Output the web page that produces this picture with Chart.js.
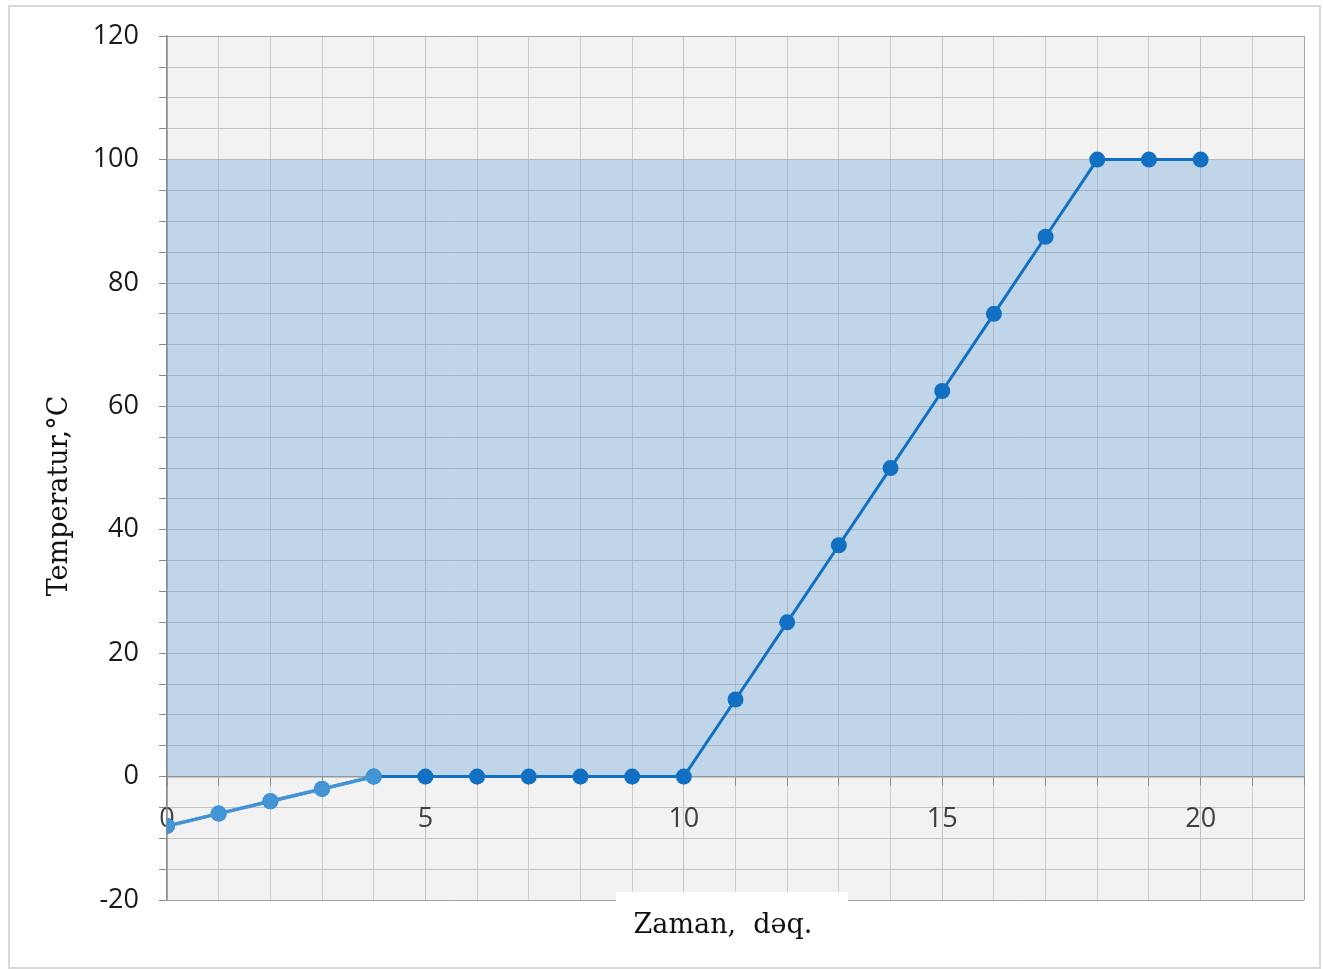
<!DOCTYPE html>
<html>
<head>
<meta charset="utf-8">
<script src="https://cdn.jsdelivr.net/npm/chart.js@4.4.1/dist/chart.umd.min.js"></script>
<style>
  html, body { margin: 0; padding: 0; background: #fff; }
</style>
</head>
<body>
<canvas id="myChart" width="1323" height="969"></canvas>
<script>
// time in minutes and temperature in °C
const minutes = [0, 1, 2, 3, 4, 5, 6, 7, 8, 9, 10, 11, 12, 13, 14, 15, 16, 17, 18, 19, 20];
const temps = [-8, -6, -4, -2, 0, 0, 0, 0, 0, 0, 0, 12.5, 25, 37.5, 50, 62.5, 75, 87.5, 100, 100, 100];
// ice warming part, drawn lighter
const warmEnd = 5;
// blue band 0..100 °C over the whole x range
const bandX = [0, 22];
const bandY = [100, 100];
const xLabels = [0, 5, 10, 15, 20];
const yLabels = [-20, 0, 20, 40, 60, 80, 100, 120];

const toPoints = (xs, ys) => xs.map((x, i) => ({ x: x, y: ys[i] }));

const frame = {
  id: "frame",
  beforeDraw(chart) {
    const { ctx, chartArea: a } = chart;
    ctx.save();
    ctx.strokeStyle = "#d9d9d9";
    ctx.lineWidth = 2;
    ctx.strokeRect(9, 6, 1311, 962);
    ctx.fillStyle = "#f2f2f2";
    ctx.fillRect(a.left, a.top, a.width, a.height);
    ctx.restore();
  },
  afterDraw(chart) {
    const { ctx } = chart;
    ctx.save();
    // x title sits in a white box over the bottom edge
    ctx.fillStyle = "#fff";
    ctx.fillRect(616, 892, 232, 56);
    ctx.fillStyle = "#111";
    ctx.font = "27px 'DejaVu Serif'";
    ctx.textAlign = "center";
    ctx.textBaseline = "middle";
    ctx.fillText("Zaman,  dəq.", 723, 926);
    ctx.translate(60, 496);
    ctx.rotate(-Math.PI / 2);
    ctx.fillText("Temperatur,°C", 0, 0);
    ctx.restore();
  },
};

const gridColor = (c, edge) => {
  if (!c.tick) return "#cccccc";
  if (edge.includes(c.tick.value)) return "#a6a6a6";
  return c.tick.value % 5 === 0 ? "#c2c2c2" : "#cccccc";
};

Chart.defaults.font.family = "'Open Sans'";
Chart.defaults.font.size = 27;
Chart.defaults.color = "#262626";

new Chart(document.getElementById("myChart"), {
  type: "line",
  plugins: [frame],
  data: {
    datasets: [
      {
        data: toPoints(minutes.slice(0, warmEnd), temps.slice(0, warmEnd)),
        borderColor: "rgba(70,150,215,0.95)",
        backgroundColor: "rgba(70,150,215,0.95)",
        borderWidth: 3.5,
        pointRadius: 8,
        pointBorderWidth: 0,
        pointHoverRadius: 8,
        order: 1,
      },
      {
        data: toPoints(minutes, temps),
        borderColor: "#1170c2",
        backgroundColor: "#1170c2",
        borderWidth: 3,
        pointRadius: 8,
        pointBorderWidth: 0,
        pointHoverRadius: 8,
        order: 2,
      },
      {
        data: toPoints(bandX, bandY),
        borderWidth: 0,
        pointRadius: 0,
        fill: "origin",
        backgroundColor: "rgba(91,155,213,0.33)",
        order: 3,
      },
    ],
  },
  options: {
    responsive: false,
    animation: false,
    layout: { padding: { left: 0, top: 34, right: 18, bottom: 69 } },
    plugins: {
      legend: { display: false },
      tooltip: { enabled: false },
    },
    scales: {
      x: {
        type: "linear",
        position: { y: 0 },
        min: 0,
        max: 22,
        grid: {
          color: (c) => gridColor(c, [22]),
          tickColor: "#8c8c8c",
          tickLength: 8,
        },
        border: { color: "#9a9a9a", width: 1.5 },
        ticks: {
          stepSize: 1,
          autoSkip: false,
          maxRotation: 0,
          padding: 19,
          color: "#404040",
          callback: (v) => (xLabels.includes(v) ? v : ""),
        },
      },
      y: {
        min: -20,
        max: 120,
        afterFit: (s) => {
          s.width = 167;
        },
        grid: {
          color: (c) => gridColor(c, [120, -20]),
          tickColor: "#8c8c8c",
          tickLength: 8,
        },
        border: { color: "#8c8c8c", width: 1.5 },
        ticks: {
          stepSize: 5,
          autoSkip: false,
          padding: 20,
          color: "#1a1a1a",
          callback: (v) => (yLabels.includes(v) ? v : ""),
        },
      },
    },
  },
});
</script>
</body>
</html>
